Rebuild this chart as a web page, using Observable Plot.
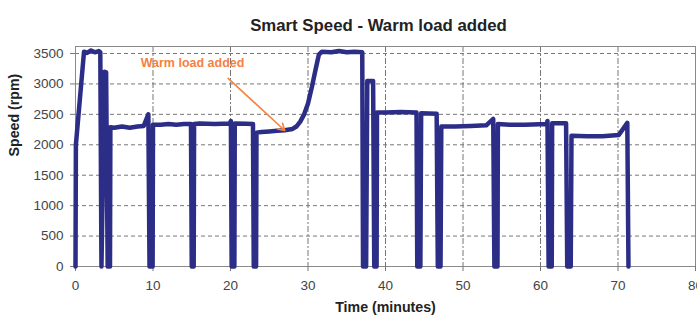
<!DOCTYPE html>
<html>
<head>
<meta charset="utf-8">
<script src="https://cdn.jsdelivr.net/npm/d3@7"></script>
<script src="https://cdn.jsdelivr.net/npm/@observablehq/plot@0.6"></script>
<style>
  html, body { margin: 0; padding: 0; background: white; overflow: hidden; }
</style>
</head>
<body>
<div id="chart"></div>
<script>
const title = "Smart Speed - Warm load added";
const xLabel = "Time (minutes)";
const yLabel = "Speed (rpm)";
const xTicks = [0, 10, 20, 30, 40, 50, 60, 70, 80];
const yTicks = [0, 500, 1000, 1500, 2000, 2500, 3000, 3500];

// time in minutes
const time = [
  0, 0.05, 1.1, 1.5, 2.0, 2.5, 3.0, 3.2, 3.35,
  3.75, 3.95, 4.15, 4.45, 4.5,
  5, 6, 7, 8, 8.8, 9.4, 9.55, 9.95, 10.0,
  11, 12, 13, 14, 14.9, 15.0, 15.25, 15.3,
  16, 18, 19.9, 20.05, 20.15, 20.5, 20.55,
  22, 22.9, 23.0, 23.3, 23.35,
  24, 25, 26, 27, 28, 28.5, 29, 29.5, 30, 30.5, 31, 31.4, 31.8,
  33, 34, 35, 36, 37.0, 37.1, 37.5, 37.65, 38.4, 38.55, 38.85, 38.9,
  40, 42, 44.0, 44.1, 44.5, 44.6, 46.6, 46.75, 47.1, 47.2,
  49, 51, 53, 53.9, 54.05, 54.45, 54.5,
  56, 58, 60.8, 60.9, 61.05, 61.45, 61.5,
  63.3, 63.45, 63.9, 64.0,
  66, 68, 70.1, 71.2, 71.35
];
// speed in rpm
const speed = [
  0, 2000, 3530, 3510, 3550, 3520, 3540, 3520, 0,
  3200, 3190, 0, 0, 2290,
  2280, 2300, 2280, 2300, 2310, 2500, 0, 0, 2330,
  2330, 2340, 2330, 2340, 2340, 0, 0, 2340,
  2350, 2340, 2350, 2390, 0, 0, 2350,
  2345, 2340, 0, 0, 2200,
  2210, 2220, 2230, 2240, 2260, 2300, 2380, 2500, 2680, 2950, 3250, 3480, 3530,
  3520, 3540, 3520, 3530, 3520, 0, 0, 3050, 3050, 0, 0, 2530,
  2530, 2540, 2530, 0, 0, 2520, 2510, 0, 0, 2300,
  2300, 2310, 2320, 2425, 0, 0, 2340,
  2330, 2330, 2340, 2390, 0, 0, 2355,
  2355, 0, 0, 2150,
  2140, 2140, 2160, 2360, 0
];

const annotationText = "Warm load added";
const annotationAt = {t: 15.1, v: 3350};
const arrowFrom = {t: 19.7, v: 3090};
const arrowTo = {t: 27.0, v: 2235};

const data = time.map((t, i) => ({t, v: speed[i]}));

const font = "'Liberation Sans', Arial, sans-serif";
const orange = "#f5813f";

const chart = Plot.plot({
  width: 697,
  height: 319,
  marginLeft: 75,
  marginRight: 2,
  marginTop: 46,
  marginBottom: 53,
  style: {fontFamily: font, fontSize: "13.5px", color: "#444", background: "white", overflow: "visible"},
  x: {domain: [0, 80]},
  y: {domain: [0, 3615]},
  marks: [
    Plot.gridY(yTicks.filter(d => d > 0), {stroke: "#777", strokeOpacity: 1, strokeDasharray: "4,3"}),
    Plot.gridX(xTicks.filter(d => d > 0 && d < 80), {stroke: "#777", strokeOpacity: 1, strokeDasharray: "6,2,2,2"}),
    Plot.frame({stroke: "#8a8a8a"}),
    Plot.axisX(xTicks, {tickSize: 5, tickPadding: 9, label: null, stroke: "#777", fill: "#444", tickFormat: d3.format("d")}),
    Plot.axisY(yTicks, {tickSize: 5, tickPadding: 7, label: null, stroke: "#777", fill: "#444", tickFormat: d3.format("d")}),
    Plot.line(data, {x: "t", y: "v", stroke: "#2c2d86", strokeWidth: 4.5, strokeLinejoin: "round", strokeLinecap: "round"}),
    Plot.arrow([0], {x1: () => arrowFrom.t, y1: () => arrowFrom.v, x2: () => arrowTo.t, y2: () => arrowTo.v, stroke: orange, strokeWidth: 1.6, headLength: 7}),
    Plot.text([annotationText], {x: () => annotationAt.t, y: () => annotationAt.v, text: d => d, fill: orange, fontWeight: "bold", fontSize: 12.5}),
    Plot.text([title], {frameAnchor: "top", dx: -7, dy: -27, text: d => d, fontWeight: "bold", fontSize: 16.8, fill: "#222"}),
    Plot.text([xLabel], {frameAnchor: "bottom", dy: 45, text: d => d, fontWeight: "bold", fontSize: 14.2, fill: "#222"}),
    Plot.text([yLabel], {frameAnchor: "left", dx: -61, rotate: -90, text: d => d, fontWeight: "bold", fontSize: 14.2, fill: "#222"})
  ]
});
document.getElementById("chart").appendChild(chart);
</script>
</body>
</html>
